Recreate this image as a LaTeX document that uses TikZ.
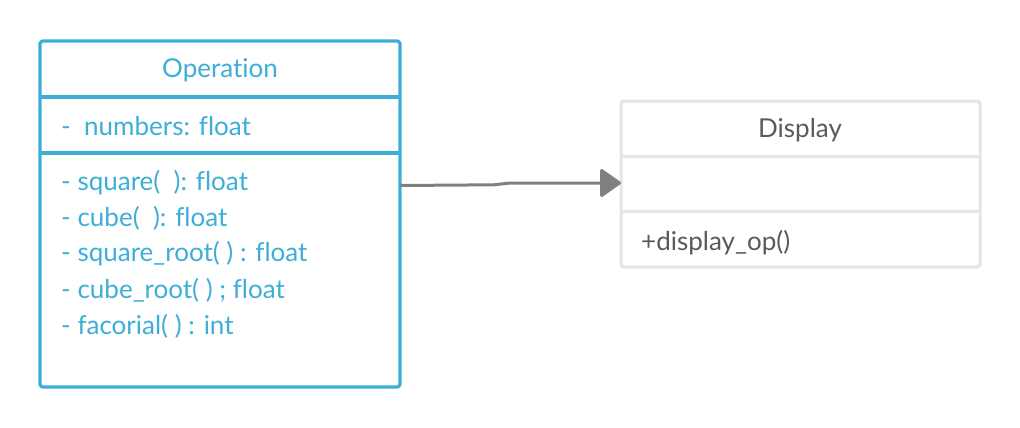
\documentclass[tikz,border=0pt]{standalone}
\usepackage{fontspec}
\setmainfont{Lato}[Ligatures=NoCommon]
\usetikzlibrary{arrows.meta}
\definecolor{opblue}{HTML}{3DAED8}
\definecolor{dispgray}{HTML}{E6E4E6}
\definecolor{disptext}{HTML}{5A5A5A}
\definecolor{arrowgray}{HTML}{808080}
\tikzset{
  opbox/.style={draw=opblue, line width=3.2pt, rounded corners=3pt},
  opline/.style={draw=opblue, line width=3.2pt},
  dispbox/.style={draw=dispgray, line width=3pt, rounded corners=3pt},
  displine/.style={draw=dispgray, line width=3pt},
  optext/.style={text=opblue, inner sep=0pt, font=\fontsize{26}{30}\selectfont},
  disptxt/.style={text=disptext, inner sep=0pt, font=\fontsize{26}{30}\selectfont},
  conn/.style={draw=arrowgray, line width=3pt, -{Triangle[length=22pt,width=30pt,round]}}
}
\begin{document}
\begin{tikzpicture}[x=1pt,y=-1pt]
\useasboundingbox[fill=white] (0,0) rectangle (1020,428);
% Operation class
\draw[opbox] (40,41) rectangle (400,387);
\draw[opline] (40,97) -- (400,97);
\draw[opline] (40,153) -- (400,153);
\node[optext] (opname) at (220,70) {Operation};
\node[optext, anchor=west] (opattr) at (61,126) {-\ \ numbers: float};
\node[optext, anchor=west] (m1) at (61,183) {- square(\ \ ): float};
\node[optext, anchor=west] (m2) at (61,218) {- cube(\ \ ): float};
\node[optext, anchor=west] (m3) at (61,254) {- square\_root( ) : float};
\node[optext, anchor=west] (m4) at (61,290) {- cube\_root( ) ; float};
\node[optext, anchor=west] (m5) at (61,326) {- facorial( ) : int};
\coordinate (opE) at (400,185.5);
% Display class
\draw[dispbox] (621,101) rectangle (980,267);
\draw[displine] (621,156) -- (980,156);
\draw[displine] (621,211) -- (980,211);
\node[disptxt] (dispname) at (800,130) {Display};
\node[disptxt, anchor=west] (dm1) at (641,243) {+display\_op()};
\coordinate (dispW) at (621,183);
% connector
\draw[conn] (opE) -- (494,184.8) -- (510,183) -- (dispW);
\end{tikzpicture}
\end{document}
